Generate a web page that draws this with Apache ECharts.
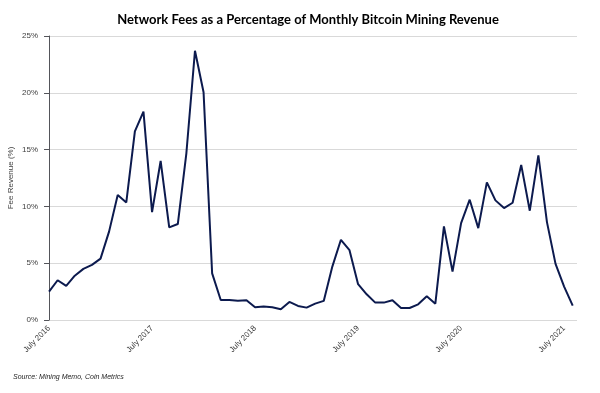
<!DOCTYPE html>
<html><head><meta charset="utf-8">
<script src="https://cdn.jsdelivr.net/npm/echarts@6/dist/echarts.min.js"></script>
<style>html,body{margin:0;padding:0;background:#fff}#c{width:600px;height:393px}</style>
</head><body><div id="c"></div>
<script>
// Monthly, July 2016 .. August 2021
const feePct = [2.5,3.5,3.0,3.9,4.5,4.85,5.4,7.8,11.0,10.35,16.6,18.35,
  9.5,14.0,8.15,8.45,14.7,23.7,20.05,4.1,1.76,1.76,1.7,1.74,
  1.12,1.18,1.12,0.94,1.59,1.24,1.09,1.44,1.68,4.7,7.06,6.15,
  3.15,2.26,1.53,1.53,1.74,1.06,1.06,1.38,2.09,1.44,8.24,4.26,
  8.53,10.59,8.09,12.12,10.53,9.85,10.32,13.65,9.62,14.5,8.62,4.94,
  2.94,1.26];
const tickIdx = [0,12,24,36,48,60];
const tickLabels = ['July 2016','July 2017','July 2018','July 2019','July 2020','July 2021'];

const chart = echarts.init(document.getElementById('c'));
const lbl = {};
tickIdx.forEach((v,i)=>lbl[v]=tickLabels[i]);
chart.setOption({
  animation:false,
  title:{text:'Network Fees as a Percentage of Monthly Bitcoin Mining Revenue',left:303,top:8,textAlign:'center',
    textStyle:{fontFamily:'Lato',fontWeight:'bold',fontSize:13,color:'#000'}},
  grid:{left:45,right:23,top:36,bottom:73,outerBoundsMode:'none',containLabel:false},
  xAxis:{type:'value',min:-0.47,max:61.5,
    axisLine:{show:false},axisTick:{show:false},splitLine:{show:false},
    axisLabel:{customValues:tickIdx,formatter:v=>lbl[v]||'',rotate:45,fontSize:8,color:'#404040',
      fontFamily:'Liberation Sans',margin:7,showMinLabel:true,showMaxLabel:true}},
  yAxis:{type:'value',min:0,max:25,interval:5,
    name:'Fee Revenue (%)',nameLocation:'middle',nameGap:30,nameRotate:90,nameMoveOverlap:false,
    nameTextStyle:{fontSize:8,color:'#404040',fontFamily:'Liberation Sans'},
    axisLabel:{formatter:v=>v+'%',fontSize:8,color:'#404040',fontFamily:'Liberation Sans',margin:7},
    splitLine:{lineStyle:{color:'#d9d9d9',width:1}}},
  graphic:[{type:'text',left:13,top:374,style:{text:'Source: Mining Memo, Coin Metrics',fontStyle:'italic',
    fontSize:7,fill:'#1f1f1f',fontFamily:'Liberation Sans'}}],
  series:[{type:'line',data:feePct.map((v,i)=>[i,v]),showSymbol:false,
    lineStyle:{color:'#0c1a4e',width:2},itemStyle:{color:'#0c1a4e'}}]
});
</script></body></html>
